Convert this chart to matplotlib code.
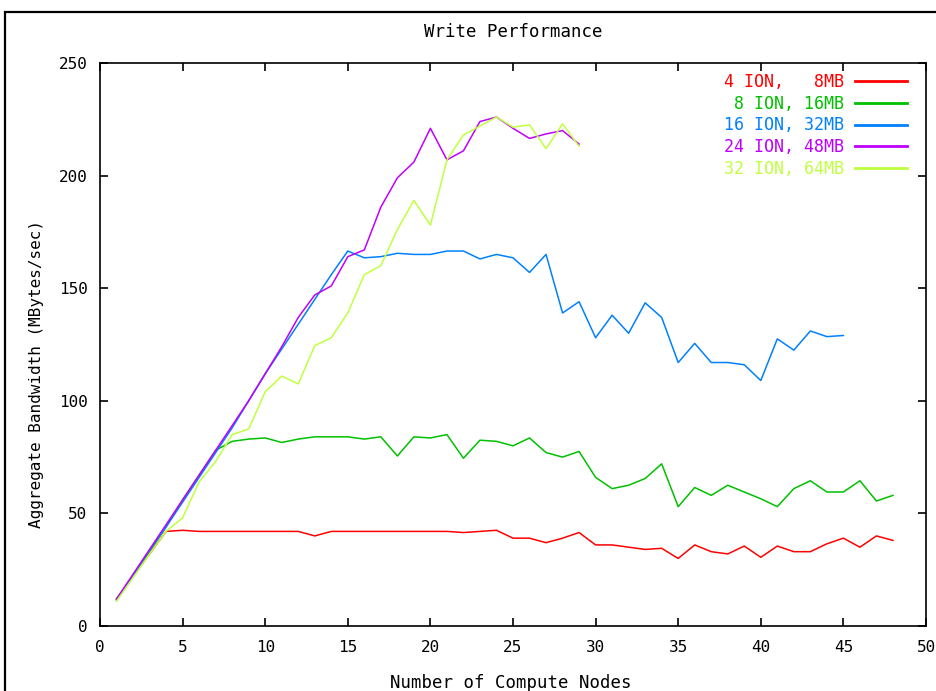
import matplotlib
matplotlib.use("Agg")
import matplotlib.pyplot as plt
from matplotlib.patches import Rectangle

plt.rcParams['font.family'] = ['DejaVu Sans Mono']

# ---- data ----
nodes_48 = list(range(1, 49))
nodes_45 = list(range(1, 46))
nodes_29 = list(range(1, 30))

ion4_8mb = [12, 22, 32, 42, 42.5, 42, 42, 42, 42, 42, 42, 42, 40, 42, 42, 42,
            42, 42, 42, 42, 42, 41.5, 42, 42.5, 39, 39, 37, 39, 41.5, 36,
            36, 35, 34, 34.5, 30, 36, 33, 32, 35.5, 30.5, 35.5, 33, 33, 36.5,
            39, 35, 40, 38]
ion8_16mb = [12, 22, 33, 44, 56, 67, 78, 82, 83, 83.5, 81.5, 83, 84, 84, 84,
             83, 84, 75.5, 84, 83.5, 85, 74.5, 82.5, 82, 80, 83.5, 77, 75,
             77.5, 66, 61, 62.5, 65.5, 72, 53, 61.5, 58, 62.5, 59.5, 56.5,
             53, 61, 64.5, 59.5, 59.5, 64.5, 55.5, 58]
ion16_32mb = [11.5, 22.5, 33.5, 44, 55, 66, 77, 88, 100, 112, 123, 134, 145,
              156, 166.5, 163.5, 164, 165.5, 165, 165, 166.5, 166.5, 163, 165,
              163.5, 157, 165, 139, 144, 128, 138, 130, 143.5, 137, 117,
              125.5, 117, 117, 116, 109, 127.5, 122.5, 131, 128.5, 129]
ion24_48mb = [12, 23, 34, 45, 56, 67, 78, 89, 100, 112, 124, 137, 147, 151,
              164, 167, 186, 199, 206, 221, 207, 211, 224, 226, 221, 216.5,
              218.5, 220, 214]
ion32_64mb = [11, 21.5, 32, 42, 48, 64, 73, 85, 87.5, 104, 111, 107.5, 124.5,
              128, 139, 156, 160, 176, 189, 178, 207, 218, 222, 226, 221.5,
              222.5, 212, 223, 213]

labels = ["4 ION,   8MB", "8 ION, 16MB", "16 ION, 32MB", "24 ION, 48MB",
          "32 ION, 64MB"]
colors = ["#ff0000", "#00c000", "#0080ff", "#c000ff", "#c0ff40"]

x_ticks = list(range(0, 51, 5))
y_ticks = list(range(0, 251, 50))

# ---- figure ----
W, H = 936, 691
AX_L, AX_R, AX_T, AX_B = 100, 926, 63, 626
fig = plt.figure(figsize=(W / 100, H / 100), dpi=100)
ax = fig.add_axes([AX_L / W, 1 - AX_B / H, (AX_R - AX_L) / W, (AX_B - AX_T) / H])

series = [(nodes_48, ion4_8mb), (nodes_48, ion8_16mb), (nodes_45, ion16_32mb),
          (nodes_29, ion24_48mb), (nodes_29, ion32_64mb)]
for (xs, ys), lab, c in zip(series, labels, colors):
    ax.plot(xs, ys, color=c, lw=1.1, label=lab)

ax.set_xlim(0, 50)
ax.set_ylim(0, 250)
ax.set_xticks(x_ticks)
ax.set_yticks(y_ticks)
ax.tick_params(direction='in', length=6, width=1.2, top=True, right=True,
               labelsize=11.5, color='black')
ax.tick_params(axis='x', pad=10)
ax.tick_params(axis='y', pad=9)
for s in ax.spines.values():
    s.set_linewidth(1.2)

anchor = ((907 - AX_L) / (AX_R - AX_L), (AX_B - 73) / (AX_B - AX_T))
leg = ax.legend(loc='upper right', bbox_to_anchor=anchor, frameon=False,
                markerfirst=False, labelcolor='linecolor',
                prop={'size': 12, 'family': 'DejaVu Sans Mono'},
                handlelength=3.1, labelspacing=0.22, handletextpad=0.7,
                borderaxespad=0.0, borderpad=0.0)
for line in leg.get_lines():
    line.set_linewidth(2.0)

fig.text(513 / W, 1 - 32 / H, "Write Performance", ha='center', va='center',
         fontsize=12.5)
fig.text(511 / W, 1 - 683 / H, "Number of Compute Nodes", ha='center',
         va='center', fontsize=12.5)
fig.text(37 / W, 1 - 374 / H, "Aggregate Bandwidth (MBytes/sec)", ha='center',
         va='center', rotation=90, fontsize=11.5)

fig.patches.append(Rectangle((5 / W, -0.5), 2, 0.5 + 1 - 12 / H,
                             transform=fig.transFigure, fill=False,
                             lw=1.6, edgecolor='black'))

fig.savefig("out.png", dpi=100)
